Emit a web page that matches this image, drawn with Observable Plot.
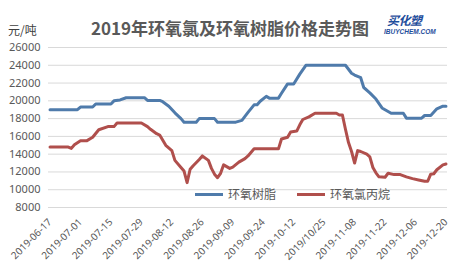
<!DOCTYPE html>
<html><head><meta charset="utf-8">
<script src="https://cdn.jsdelivr.net/npm/d3@7"></script>
<script src="https://cdn.jsdelivr.net/npm/@observablehq/plot@0.6"></script>
<style>
body{margin:0;background:#fff;}
#wrap{position:relative;width:463px;height:273px;font-family:"Noto Sans CJK SC","Noto Sans",sans-serif;color:#595959;overflow:hidden;}
#wrap svg{position:absolute;left:0;top:0;}
.ov{position:absolute;white-space:nowrap;line-height:1;}
#title{left:0;width:460px;top:19px;text-align:center;font-size:17px;font-weight:bold;color:#595959;}
#unit{left:8px;top:24px;font-size:12px;color:#404040;}
#logo1{left:387px;top:14px;font-size:12px;font-weight:bold;font-style:italic;color:#1f4e9c;letter-spacing:-0.5px;}
#logo2{left:384px;top:29px;font-size:6.5px;font-weight:bold;font-style:italic;color:#1f4e9c;font-family:"Liberation Sans",sans-serif;}
.leg{top:188px;font-size:12px;display:flex;align-items:center;color:#595959;}
.sw{display:inline-block;width:28px;height:3px;margin-right:5px;}
</style></head>
<body><div id="wrap"></div>
<script>
const tickLabels = ["2019-06-17","2019-07-01","2019-07-15","2019-07-29","2019-08-12","2019-08-26","2019-09-09","2019-09-24","2019-10-12","2019/10/25","2019-11-08","2019-11-22","2019-12-06","2019-12-20"];
const yTicks = [8000,10000,12000,14000,16000,18000,20000,22000,24000,26000];
const seriesNames = ["环氧树脂","环氧氯丙烷"];
const seriesColors = ["#4f7bab","#b04f4c"];

// 环氧树脂 (epoxy resin): category index, price
const resinIdx = [0,9,10,14,15,20,21,23,25,31,32,36,37,39,41,43,44,48,49,54,55,61,63,65,67,68,69,71,72,75,76,78,80,82,84,97,99,100,102,103,105,107,109,111,112,116,117,122,123,125,127,129,130];
const resinVal = [19000,19000,19300,19300,19650,19650,20000,20100,20350,20350,20050,20050,19900,19400,18650,18000,17600,17600,18000,18000,17600,17600,17800,18700,19550,19550,19950,20500,20300,20300,20850,21900,21900,23000,24000,24000,23100,22900,22600,21500,20900,20200,19200,18800,18600,18600,18050,18050,18350,18350,19100,19400,19400];

// 环氧氯丙烷 (epichlorohydrin): category index, price
const echIdx = [0,6,7,8,10,12,14,16,19,21,22,30,32,33,35,36,38,40,41,43,44,45,46,47,49,50,52,53,54,55,56,57,59,60,62,64,65,67,75,76,78,79,81,82,83,85,87,94,95,96,97,98,99,100,101,102,104,105,106,107,108,110,111,113,115,117,119,121,123,124,125,126,127,129,130];
const echVal = [14800,14800,14650,15050,15500,15500,15900,16750,17100,17100,17500,17500,17100,16800,16300,16150,15000,14400,13300,12500,12100,10800,12300,12700,13400,13800,13300,12400,11750,11350,11850,12800,12400,12550,13100,13500,13800,14600,14600,15700,15900,16500,16600,17300,17900,18200,18600,18600,18400,18400,16800,15300,14300,13000,14400,14300,14000,13700,12500,11900,11450,11400,11850,11700,11700,11450,11250,11100,10950,10950,11750,11800,12250,12800,12900];

const rows = [
  ...resinIdx.map((x,i)=>({x, y: resinVal[i], s: seriesNames[0]})),
  ...echIdx.map((x,i)=>({x, y: echVal[i], s: seriesNames[1]}))
];
const tickIdx = tickLabels.map((_,i)=>i*10);

const chart = Plot.plot({
  width: 463, height: 273,
  marginLeft: 48, marginRight: 16, marginTop: 47, marginBottom: 66,
  style: {fontFamily: '"Noto Sans","Noto Sans CJK SC",sans-serif', fontSize: "11px", color: "#595959", background: "transparent"},
  x: {domain: [-0.5, 130.5]},
  y: {domain: [8000, 26000]},
  color: {domain: seriesNames, range: seriesColors},
  marks: [
    Plot.gridY(yTicks, {stroke: "#d9d9d9", strokeOpacity: 1, strokeWidth: 1}),
    Plot.axisY(yTicks, {tickSize: 0, tickPadding: 8, label: null, tickFormat: d => String(d)}),
    Plot.axisX(tickIdx, {tickSize: 0, tickPadding: 13, tickRotate: -45, fontSize: 10, label: null, tickFormat: i => tickLabels[i/10]}),
    Plot.line(rows, {x: "x", y: "y", z: "s", stroke: "s", strokeWidth: 3, strokeLinejoin: "round"})
  ]
});

const wrap = document.getElementById("wrap");
wrap.appendChild(chart);
function ov(id, cls, text){const d=document.createElement("div");if(id)d.id=id;d.className="ov "+(cls||"");d.textContent=text;wrap.appendChild(d);return d;}
ov("title","","2019年环氧氯及环氧树脂价格走势图");
ov("unit","","元/吨");
ov("logo1","","买化塑");
ov("logo2","","IBUYCHEM.COM");
const legX = [195, 297];
seriesNames.forEach((n,i)=>{
  const d=document.createElement("div");d.className="ov leg";d.style.left=legX[i]+"px";
  const s=document.createElement("span");s.className="sw";s.style.background=seriesColors[i];
  const t=document.createElement("span");t.textContent=n;
  d.appendChild(s);d.appendChild(t);wrap.appendChild(d);
});
</script>
</body></html>
